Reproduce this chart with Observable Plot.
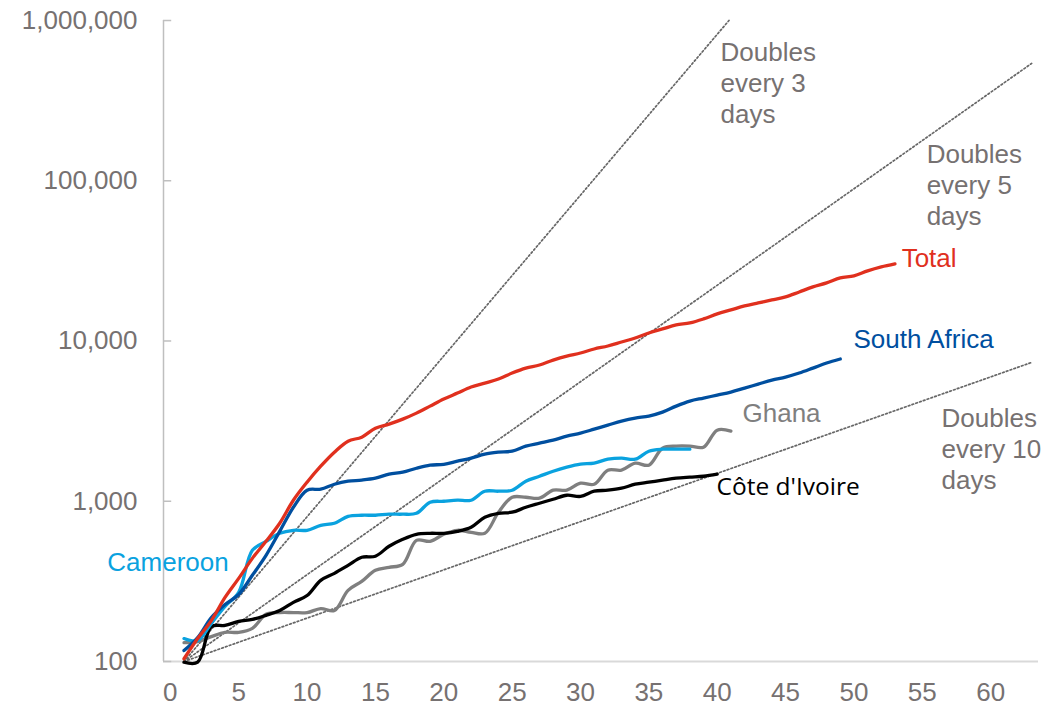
<!DOCTYPE html>
<html>
<head>
<meta charset="utf-8">
<script src="https://cdn.jsdelivr.net/npm/d3@7"></script>
<script src="https://cdn.jsdelivr.net/npm/@observablehq/plot@0.6"></script>
<style>
  html, body { margin: 0; padding: 0; background: #ffffff; }
  #chart { width: 1064px; height: 709px; }
</style>
</head>
<body>
<div id="chart"></div>
<script>
// ---------- DATA (cumulative cases by day since 100th case) ----------
const totalCases = [104, 139, 180, 251, 330, 440, 562, 729, 1015, 1315,
  1655, 2024, 2371, 2512, 2858, 3030, 3253, 3548, 3924, 4340,
  4730, 5160, 5465, 5788, 6310, 6776, 7080, 7600, 8053, 8414,
  8913, 9310, 9857, 10440, 11220, 11890, 12590, 12960, 13730, 14760,
  15630, 16550, 17280, 18030, 18840, 20230, 21750, 23040, 24760, 25480,
  27380, 29000, 30280];

const southAfricaCases = [117, 141, 188, 227, 262, 345, 460, 649, 917, 1172,
  1190, 1277, 1334, 1355, 1393, 1475, 1518, 1607, 1679, 1700,
  1778, 1858, 1968, 2024, 2053, 2208, 2305, 2404, 2547, 2661,
  2818, 2985, 3162, 3304, 3400, 3597, 3924, 4217, 4404, 4597,
  4800, 5082, 5383, 5700, 5957, 6310, 6776, 7290, 7720];

const cameroonCases = [139, 135, 173, 221, 270, 494, 562, 631, 659, 659,
  708, 729, 805, 818, 818, 830, 830, 841, 986, 1000,
  1015, 1015, 1155, 1155, 1172, 1334, 1432, 1540, 1631, 1703,
  1730, 1830, 1860, 1830, 2053, 2113, 2113, 2113];

const ghanaCases = [131, 133, 143, 152, 152, 161, 197, 202, 202, 202,
  214, 208, 278, 316, 371, 387, 404, 570, 562, 622,
  659, 640, 631, 853, 1059, 1059, 1045, 1172, 1172, 1296,
  1277, 1563, 1563, 1729, 1679, 2143, 2208, 2208, 2174, 2778,
  2738];

const coteDIvoireCases = [99, 99, 165, 168, 178, 183, 194, 208, 234, 258,
  321, 355, 398, 447, 454, 524, 579, 622, 631, 631,
  649, 688, 794, 841, 854, 917, 972, 1029, 1090, 1072,
  1155, 1172, 1206, 1277, 1315, 1355, 1393, 1414, 1432, 1475];

const seriesNames = ["Total", "South Africa", "Cameroon", "Ghana", "Côte d'Ivoire"];
const seriesValues = [totalCases, southAfricaCases, cameroonCases, ghanaCases, coteDIvoireCases];
const firstDay = 1;

// Reference "doubling" guide lines: start and end points (day, cases)
const doublingLabels = ["Doubles\nevery 3\ndays", "Doubles\nevery 5\ndays", "Doubles\nevery 10\ndays"];
const doublingStart = [[1, 100], [1, 100], [1, 100]];
const doublingEnd = [[40.86, 1000000], [63, 540000], [63, 7350]];

const yTicks = [100, 1000, 10000, 100000, 1000000];
const xTicks = [0, 5, 10, 15, 20, 25, 30, 35, 40, 45, 50, 55, 60];

// ---------- STYLES / ANNOTATION PLACEMENT ----------
const seriesColors = {
  "Total": "#e0301e",
  "South Africa": "#004f9f",
  "Cameroon": "#0aa2df",
  "Ghana": "#7f7f7f",
  "Côte d'Ivoire": "#000000"
};
const drawOrder = ["Ghana", "Côte d'Ivoire", "Cameroon", "South Africa", "Total"];
const seriesLabelPos = {
  "Total": [53.49, 32700],
  "South Africa": [49.97, 10190],
  "Ghana": [41.85, 3517],
  "Côte d'Ivoire": [39.95, 1219],
  "Cameroon": [-4.61, 411]
};
const doublingLabelPos = [[40.24, 411000], [55.32, 94900], [56.41, 2154]];

// ---------- BUILD TABLES ----------
const rows = [];
drawOrder.forEach(name => {
  const vals = seriesValues[seriesNames.indexOf(name)];
  vals.forEach((v, i) => rows.push({series: name, day: firstDay + i, value: v}));
});

const guideRows = [];
doublingLabels.forEach((lab, i) => {
  guideRows.push({guide: lab, day: doublingStart[i][0], value: doublingStart[i][1]});
  guideRows.push({guide: lab, day: doublingEnd[i][0], value: doublingEnd[i][1]});
});

const seriesLabelRows = seriesNames.map(n => ({
  name: n, day: seriesLabelPos[n][0], value: seriesLabelPos[n][1]
}));
const guideLabelRows = doublingLabels.map((lab, i) => ({
  text: lab, day: doublingLabelPos[i][0], value: doublingLabelPos[i][1]
}));

const tickColor = "#767171";
const fontMain = "'Liberation Sans', Arial, Helvetica, sans-serif";

const chart = Plot.plot({
  width: 1064,
  height: 709,
  marginLeft: 163,
  marginRight: 26,
  marginTop: 20,
  marginBottom: 48,
  style: {fontFamily: fontMain, background: "#ffffff", color: tickColor, overflow: "visible"},
  x: {domain: [-0.5, 63.5], label: null},
  y: {type: "log", domain: [100, 1000000], label: null},
  marks: [
    // axes
    Plot.axisY(yTicks, {tickSize: 0, tickPadding: 26, tickFormat: d3.format(","),
      fontSize: 26, fill: tickColor, label: null, fontFamily: fontMain}),
    Plot.axisX(xTicks, {tickSize: 0, tickPadding: 21, fontSize: 26, fill: tickColor, label: null, fontFamily: fontMain}),
    Plot.ruleY([100], {stroke: "#d9d9d9", strokeWidth: 2}),
    Plot.ruleX([-0.5], {stroke: "#bfbfbf", strokeWidth: 1.5}),
    Plot.ruleY(yTicks, {x1: -0.5, x2: 0.1, stroke: "#bfbfbf", strokeWidth: 1.5}),
    // doubling guides
    Plot.line(guideRows, {x: "day", y: "value", z: "guide", stroke: "#666666",
      strokeWidth: 1.7, strokeDasharray: "1.7 2.3"}),
    // series
    Plot.line(rows, {x: "day", y: "value", z: "series", stroke: d => seriesColors[d.series],
      strokeWidth: 3.3, curve: "catmull-rom", strokeLinecap: "round", strokeLinejoin: "round"}),
    // guide labels
    Plot.text(guideLabelRows, {x: "day", y: "value", text: "text", textAnchor: "start",
      lineAnchor: "middle", lineHeight: 1.19, fontSize: 26, fill: tickColor, fontFamily: fontMain}),
    // series labels
    Plot.text(seriesLabelRows.filter(d => d.name !== "Côte d'Ivoire"), {x: "day", y: "value", text: "name",
      textAnchor: "start", fontSize: 26, fill: d => seriesColors[d.name], fontFamily: fontMain}),
    Plot.text(seriesLabelRows.filter(d => d.name === "Côte d'Ivoire"), {x: "day", y: "value", text: "name",
      textAnchor: "start", fontSize: 24.5, fontFamily: "'Open Sans', 'Noto Sans', sans-serif",
      fill: d => seriesColors[d.name]})
  ]
});

document.getElementById("chart").appendChild(chart);
</script>
</body>
</html>
